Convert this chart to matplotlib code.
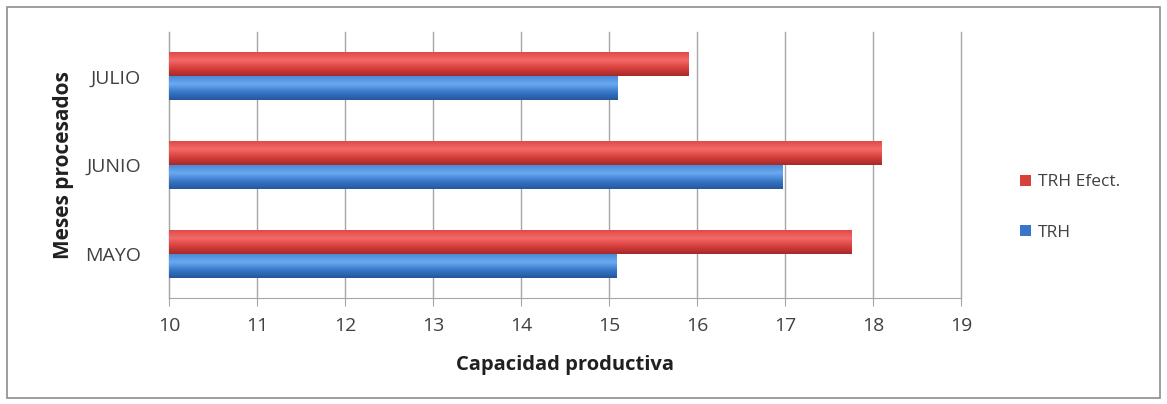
import numpy as np
import matplotlib
matplotlib.use("Agg")
import matplotlib.pyplot as plt
from matplotlib.colors import LinearSegmentedColormap
from matplotlib.patches import Rectangle

meses = ['MAYO', 'JUNIO', 'JULIO']
trh = [15.08, 16.97, 15.1]
trh_efect = [17.75, 18.1, 15.9]

plt.rcParams['font.family'] = ['Open Sans', 'DejaVu Sans']

fig = plt.figure(figsize=(11.67, 4.04), dpi=100)
fig.patches.append(Rectangle((0.006, 0.015), 0.988, 0.968, transform=fig.transFigure,
                             fill=False, edgecolor='#8c8c8c', linewidth=1.2))
ax = fig.add_axes([0.1448, 0.2624, 0.6787, 0.6584])

y = np.arange(len(meses))
h = 0.27

red_cmap = LinearSegmentedColormap.from_list('r', ['#a42a28', '#d8403d', '#f26a68', '#e04a47'])
blue_cmap = LinearSegmentedColormap.from_list('b', ['#24579c', '#3877c8', '#6aaaf0', '#4a8ad8'])

bars_e = ax.barh(y + h / 2, [v - 10 for v in trh_efect], height=h, left=10,
                 color='#d8403d', label='TRH Efect.', zorder=3)
bars_t = ax.barh(y - h / 2, [v - 10 for v in trh], height=h, left=10,
                 color='#3877c8', label='TRH', zorder=3)

# vertical shading on every bar
grad = np.linspace(0, 1, 64).reshape(-1, 1)
for bars, cmap in ((bars_e, red_cmap), (bars_t, blue_cmap)):
    for b in bars:
        x0, y0 = b.get_x(), b.get_y()
        im = ax.imshow(grad, cmap=cmap, aspect='auto', origin='lower',
                       extent=(x0, x0 + b.get_width(), y0, y0 + b.get_height()),
                       zorder=4, interpolation='bicubic')
        im.set_clip_path(b)

ax.set_xlim(10, 19)
ax.set_ylim(-0.5, 2.5)
ax.set_xticks(range(10, 20))
ax.set_yticks(y)
ax.set_yticklabels(meses)
ax.grid(axis='x', color='#a6a6a6', linewidth=1, zorder=0)
for line in ax.get_xgridlines():
    line.set_clip_on(False)
for s in ('top', 'right'):
    ax.spines[s].set_visible(False)
for s in ('left', 'bottom'):
    ax.spines[s].set_color('#a6a6a6')
ax.tick_params(axis='x', length=6, color='#a6a6a6', labelsize=14, labelcolor='#404040', pad=8)
ax.tick_params(axis='y', length=0, labelsize=14, labelcolor='#404040', pad=20)

ax.set_xlabel('Capacidad productiva', fontsize=14.5, fontweight='bold', color='#202020', labelpad=14)
ax.set_ylabel('Meses procesados', fontsize=15, fontweight='bold', color='#202020', labelpad=8)

handles = [bars_e, bars_t]
leg = ax.legend(handles, ['TRH Efect.', 'TRH'], loc='center left', bbox_to_anchor=(1.055, 0.34),
                frameon=False, fontsize=12.5, handlelength=0.6, handleheight=0.6,
                labelspacing=2.0, handletextpad=0.4)
for t in leg.get_texts():
    t.set_color('#404040')

fig.savefig('out.png', dpi=100)
